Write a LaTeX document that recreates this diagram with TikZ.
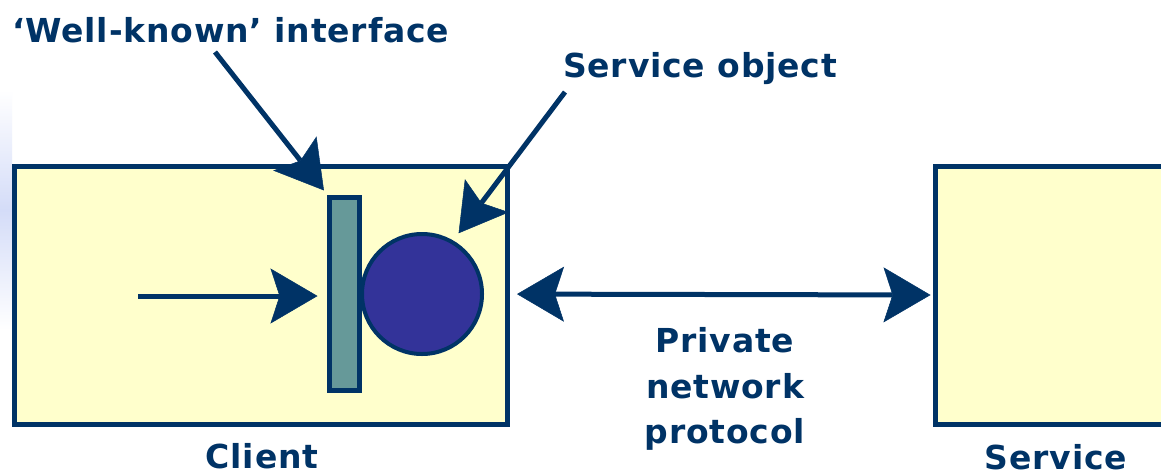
\documentclass[tikz,border=0pt]{standalone}
\usepackage{fontspec}
\setmainfont{DejaVu Sans}[LetterSpace=2.5]
\usetikzlibrary{arrows.meta}
\definecolor{navy}{RGB}{0,51,102}
\definecolor{boxfill}{RGB}{255,255,204}
\definecolor{ifacefill}{RGB}{102,153,153}
\definecolor{objfill}{RGB}{51,51,153}
\definecolor{edgeblue}{RGB}{212,220,248}
\tikzset{
  lbl/.style={text=navy, font=\fontsize{33}{40}\selectfont\bfseries, inner sep=0pt, anchor=base},
  boxstyle/.style={draw=navy, fill=boxfill, line width=5pt, inner sep=0pt, outer sep=0pt, rectangle},
  ifacestyle/.style={draw=navy, fill=ifacefill, line width=5pt, inner sep=0pt, outer sep=0pt, rectangle, minimum width=30pt, minimum height=193pt},
  objstyle/.style={draw=navy, fill=objfill, line width=4pt, inner sep=0pt, outer sep=0pt, circle, minimum size=120pt},
  tip/.tip={Stealth[length=47pt, width=55pt, inset=9pt, line width=0.5pt]},
  arr/.style={draw=navy, line width=5pt, -tip},
  darr/.style={draw=navy, line width=5pt, tip-tip}
}
\begin{document}
\begin{tikzpicture}[x=1pt, y=-1pt]
\useasboundingbox (0,0) rectangle (1161,475);
\fill[white] (0,0) rectangle (1161,475);
\shade[top color=white, bottom color=edgeblue] (0,90) rectangle (12,210);
\shade[top color=edgeblue, bottom color=white] (0,210) rectangle (12,330);
% boxes
\node[boxstyle, minimum width=493pt, minimum height=258pt] (client) at (261,295) {};
\node[boxstyle, minimum width=240pt, minimum height=258pt] (service) at (1055.5,295) {};
% interface and object
\node[ifacestyle] (iface) at (344.5,294) {};
\node[objstyle] (obj) at (422,294) {};
% labels
\node[lbl, anchor=base west] (wklbl) at (12,42) {‘Well-known’ interface};
\node[lbl, anchor=base west] (solbl) at (563,77) {Service object};
\node[lbl] (p1) at (725,352) {Private};
\node[lbl] (p2) at (725,398) {network};
\node[lbl] (p3) at (725,443) {protocol};
\node[lbl, text depth=0pt] (clbl) at (262,468) {Client};
\node[lbl, text depth=0pt] (slbl) at (1056,469) {Service};
% connectors
\coordinate (cin) at (138,296);
\coordinate (wk) at (215,52);
\coordinate (so) at (565,92);
\draw[arr, shorten >=12pt] (cin) -- (cin -| iface.west);
\draw[darr, shorten <=35pt, shorten >=5pt] (obj.east) -- (service.west);
\draw[arr, shorten >=9pt] (wk) -- (iface.north west);
\draw[arr, shorten >=11pt] (so) -- (obj.60);
\end{tikzpicture}
\end{document}
